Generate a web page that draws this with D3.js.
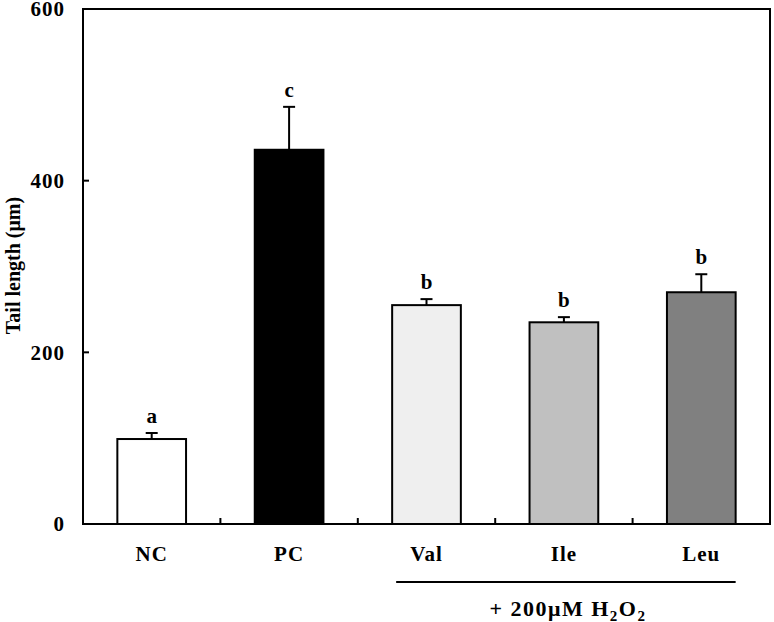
<!DOCTYPE html>
<html>
<head>
<meta charset="utf-8">
<script src="https://cdn.jsdelivr.net/npm/d3@7"></script>
<style>
  body { margin: 0; background: #fff; overflow: hidden; }
  svg { display: block; overflow: visible; }
  text { font-family: "Liberation Serif", "Times New Roman", serif; font-weight: bold; fill: #000; }
</style>
</head>
<body>
<div id="chart"></div>
<script>
// Tail length per group
const groups = ['NC', 'PC', 'Val', 'Ile', 'Leu'];
const means = [99, 436, 255, 235, 270];
const errors = [7, 50, 7, 6, 21];
const letters = ['a', 'c', 'b', 'b', 'b'];
const fills = ['#ffffff', '#000000', '#efefef', '#c0c0c0', '#808080'];
const yTicks = [0, 200, 400, 600];
const treatedGroups = ['Val', 'Ile', 'Leu'];

const width = 774;
const height = 622;
const margin = { top: 9, right: 4, bottom: 98, left: 83 };
const innerWidth = width - margin.left - margin.right;
const innerHeight = height - margin.top - margin.bottom;

const svg = d3.select('#chart')
    .append('svg')
    .attr('width', width)
    .attr('height', height);

const g = svg.append('g')
    .attr('transform', `translate(${margin.left},${margin.top})`);

const x = d3.scaleBand()
    .domain(groups)
    .range([0, innerWidth])
    .paddingInner(0.5)
    .paddingOuter(0.25);

const y = d3.scaleLinear()
    .domain([0, 600])
    .range([innerHeight, 0]);

const step = x.step();

// Bars
g.selectAll('.bar')
    .data(groups)
    .enter().append('rect')
    .attr('class', 'bar')
    .attr('x', d => x(d))
    .attr('y', (d, i) => y(means[i]))
    .attr('width', x.bandwidth())
    .attr('height', (d, i) => innerHeight - y(means[i]))
    .attr('fill', (d, i) => fills[i])
    .attr('stroke', '#000')
    .attr('stroke-width', 2);

// Error bars (upper only) and significance letters
groups.forEach((d, i) => {
    const cx = x(d) + x.bandwidth() / 2;
    const top = y(means[i] + errors[i]);
    g.append('line')
        .attr('x1', cx).attr('x2', cx)
        .attr('y1', y(means[i])).attr('y2', top)
        .attr('stroke', '#000').attr('stroke-width', 2);
    g.append('line')
        .attr('x1', cx - 6).attr('x2', cx + 6)
        .attr('y1', top).attr('y2', top)
        .attr('stroke', '#000').attr('stroke-width', 2);
    g.append('text')
        .attr('x', cx)
        .attr('y', top - 10)
        .attr('text-anchor', 'middle')
        .style('font-size', '21px')
        .text(letters[i]);
});

// Frame
g.append('rect')
    .attr('x', 0).attr('y', 0)
    .attr('width', innerWidth).attr('height', innerHeight)
    .attr('fill', 'none')
    .attr('stroke', '#000')
    .attr('stroke-width', 2);

// Y ticks (inside)
g.selectAll('.ytick')
    .data(yTicks.slice(1, -1))
    .enter().append('line')
    .attr('x1', 0).attr('x2', 6)
    .attr('y1', d => y(d)).attr('y2', d => y(d))
    .attr('stroke', '#000').attr('stroke-width', 2);

g.selectAll('.ylabel')
    .data(yTicks)
    .enter().append('text')
    .attr('x', -18)
    .attr('y', d => y(d))
    .attr('text-anchor', 'end')
    .attr('dy', '0.35em')
    .style('font-size', '21px')
    .style('letter-spacing', '1px')
    .text(d => d);

// X ticks (inside) at category boundaries
g.selectAll('.xtick')
    .data(groups.slice(1))
    .enter().append('line')
    .attr('x1', d => x(d) - step * 0.25)
    .attr('x2', d => x(d) - step * 0.25)
    .attr('y1', innerHeight).attr('y2', innerHeight - 6)
    .attr('stroke', '#000').attr('stroke-width', 2);

g.selectAll('.xlabel')
    .data(groups)
    .enter().append('text')
    .attr('x', d => x(d) + x.bandwidth() / 2)
    .attr('y', innerHeight + 37)
    .attr('text-anchor', 'middle')
    .style('font-size', '21px')
    .style('letter-spacing', '1px')
    .text(d => d);

// Y axis title
g.append('text')
    .attr('transform', `translate(-63,${innerHeight / 2 - 1}) rotate(-90)`)
    .attr('text-anchor', 'middle')
    .style('font-size', '20px')
    .text('Tail length (μm)');

// Treatment bracket
const x0 = x(treatedGroups[0]);
const x1 = x(treatedGroups[treatedGroups.length - 1]) + x.bandwidth();
g.append('line')
    .attr('x1', x0 + 4).attr('x2', x1)
    .attr('y1', innerHeight + 58).attr('y2', innerHeight + 58)
    .attr('stroke', '#000').attr('stroke-width', 2);

const label = g.append('text')
    .attr('x', (x0 + x1) / 2 + 4)
    .attr('y', innerHeight + 92)
    .attr('text-anchor', 'middle')
    .style('font-size', '22px')
    .style('letter-spacing', '1.5px');
label.append('tspan').text('+ 200μM H');
label.append('tspan').attr('dy', 5).style('font-size', '15px').text('2');
label.append('tspan').attr('dy', -5).text('O');
label.append('tspan').attr('dy', 5).style('font-size', '15px').text('2');
</script>
</body>
</html>
